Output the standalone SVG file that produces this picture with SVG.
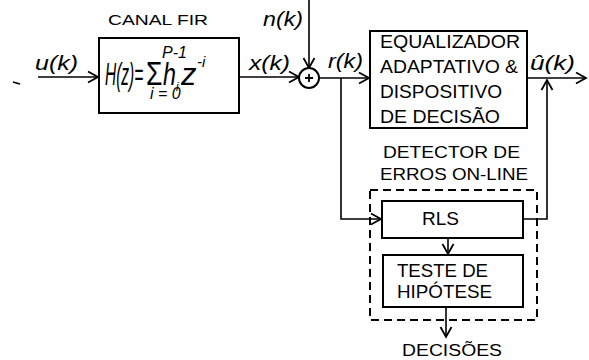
<svg xmlns="http://www.w3.org/2000/svg" width="589" height="360" viewBox="0 0 589 360">
<defs>
<style>
.box{fill:#fff;stroke:#000;stroke-width:2}
.ln{fill:none;stroke:#000;stroke-width:1.6}
.dash{fill:none;stroke:#000;stroke-width:2;stroke-dasharray:8 5}
.t{font-family:"Liberation Sans",Arial,sans-serif;fill:#000}
.m{font-family:"Liberation Sans",Arial,sans-serif;font-style:italic;fill:#000}
</style>
<marker id="ah" markerWidth="14" markerHeight="14" refX="11" refY="7" orient="auto" markerUnits="userSpaceOnUse">
<path d="M1,1.5 L11,7 L1,12.5" fill="none" stroke="#000" stroke-width="1.8"/>
</marker>
</defs>
<rect width="589" height="360" fill="#fff"/>

<g id="connectors">
<path class="ln" d="M13,82 L20,84"/>
<path class="ln" d="M38,77 H98" marker-end="url(#ah)"/>
<path class="ln" d="M239,77 H299" marker-end="url(#ah)"/>
<path class="ln" d="M309,0 V68" marker-end="url(#ah)"/>
<path class="ln" d="M319,78 H369" marker-end="url(#ah)"/>
<path class="ln" d="M527,78 H586" marker-end="url(#ah)"/>
<path class="ln" d="M341,78 V219 H381" marker-end="url(#ah)"/>
<path class="ln" d="M523,219 H547 V80" marker-end="url(#ah)"/>
<path class="ln" d="M448,238 V254" marker-end="url(#ah)"/>
<path class="ln" d="M446,307 V337" marker-end="url(#ah)"/>
</g>

<g id="canal">
<rect class="box" x="99" y="38" width="140" height="75"/>
<text class="t" x="108" y="25" font-size="15" textLength="100" lengthAdjust="spacingAndGlyphs">CANAL FIR</text>
<text class="m" transform="translate(105,85) scale(0.5,1)" font-size="31">H(z)=</text>
<text class="t" transform="translate(146,85) scale(0.78,1)" font-size="34">Σ</text>
<text class="m" x="162" y="58" font-size="16">P-1</text>
<text class="m" x="150" y="99" font-size="16">i = 0</text>
<text class="m" transform="translate(163,85) scale(0.75,1)" font-size="31">h</text>
<text class="m" x="176" y="91" font-size="12">i</text>
<text class="m" transform="translate(181,85)" font-size="31">z</text>
<text class="m" x="197" y="67" font-size="15">-i</text>
</g>

<g id="sum">
<circle cx="309" cy="78" r="10" fill="#fff" stroke="#000" stroke-width="2"/>
<path d="M305,78 H313 M309,74 V82" stroke="#000" stroke-width="1.8"/>
</g>

<g id="labels">
<text class="m" x="35" y="70" font-size="21" textLength="43" lengthAdjust="spacingAndGlyphs">u(k)</text>
<text class="m" x="263" y="26" font-size="21" textLength="40" lengthAdjust="spacingAndGlyphs">n(k)</text>
<text class="m" x="249" y="70" font-size="21" textLength="41" lengthAdjust="spacingAndGlyphs">x(k)</text>
<text class="m" x="328" y="68" font-size="21" textLength="35" lengthAdjust="spacingAndGlyphs">r(k)</text>
<text class="m" x="530" y="70" font-size="21" textLength="45" lengthAdjust="spacingAndGlyphs">û(k)</text>
</g>

<g id="equalizador">
<rect class="box" x="370" y="31" width="157" height="97"/>
<text class="t" x="380" y="48" font-size="18" textLength="140" lengthAdjust="spacingAndGlyphs">EQUALIZADOR</text>
<text class="t" x="380" y="73" font-size="18" textLength="138" lengthAdjust="spacingAndGlyphs">ADAPTATIVO &amp;</text>
<text class="t" x="380" y="98" font-size="18" textLength="122" lengthAdjust="spacingAndGlyphs">DISPOSITIVO</text>
<text class="t" x="380" y="123" font-size="18" textLength="120" lengthAdjust="spacingAndGlyphs">DE DECISÃO</text>
</g>

<g id="detector">
<rect class="dash" x="370" y="190" width="167" height="130"/>
<text class="t" x="383" y="158" font-size="17" textLength="137" lengthAdjust="spacingAndGlyphs">DETECTOR DE</text>
<text class="t" x="380" y="180" font-size="17" textLength="148" lengthAdjust="spacingAndGlyphs">ERROS ON-LINE</text>
</g>

<g id="rls">
<rect class="box" x="382" y="201" width="141" height="37"/>
<text class="t" x="422" y="225" font-size="18" textLength="37" lengthAdjust="spacingAndGlyphs">RLS</text>
</g>

<g id="teste">
<rect class="box" x="383" y="255" width="140" height="52"/>
<text class="t" x="397" y="277" font-size="18" textLength="91" lengthAdjust="spacingAndGlyphs">TESTE DE</text>
<text class="t" x="397" y="298" font-size="18" textLength="95" lengthAdjust="spacingAndGlyphs">HIPÓTESE</text>
</g>

<g id="decisoes">
<text class="t" x="402" y="356" font-size="16" textLength="100" lengthAdjust="spacingAndGlyphs">DECISÕES</text>
</g>
</svg>
